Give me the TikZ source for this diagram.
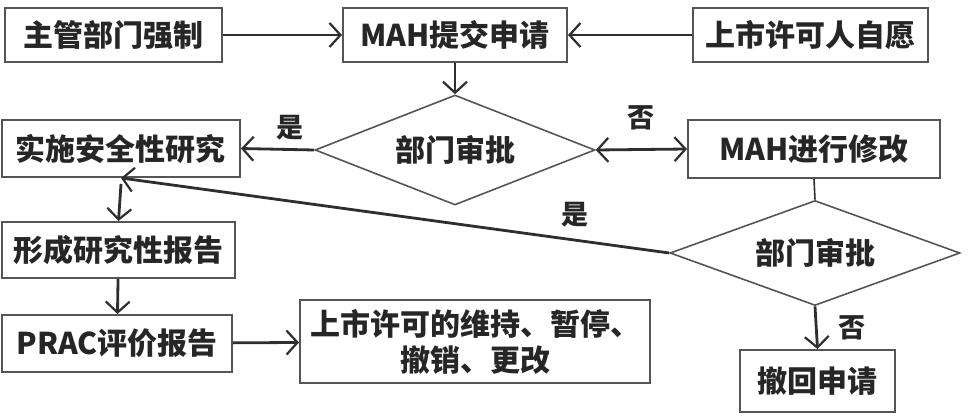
\documentclass[tikz,border=0pt]{standalone}
\usepackage{fontspec}
\setmainfont{Liberation Sans}
\newfontfamily\cjk{Noto Sans CJK SC}
\usetikzlibrary{shapes.geometric,arrows.meta}
\definecolor{ln}{HTML}{2E2E2E}
\definecolor{bd}{HTML}{555555}
\tikzset{
  box/.style={draw=bd,line width=2pt,rectangle,inner sep=0pt,text=black!85,font=\fontsize{30}{36}\selectfont\cjk\bfseries,align=center},
  dia/.style={draw=bd,line width=1.6pt,diamond,inner sep=0pt,text=black!85,font=\fontsize{30}{36}\selectfont\cjk\bfseries},
  conn/.style={draw=ln,line width=2.8pt,-{Straight Barb[length=11pt,width=24pt,line width=2.2pt]}},
  lab/.style={text=black!85,font=\fontsize{27}{32}\selectfont\cjk\bfseries}
}
\begin{document}
\begin{tikzpicture}[x=1pt,y=-1pt]
\useasboundingbox (0,0) rectangle (969,417);
\node[box,minimum width=217pt,minimum height=54pt] (b1) at (113.5,35) {主管部门强制};
\node[box,minimum width=224pt,minimum height=54pt] (b2) at (455,35) {MAH提交申请};
\node[box,minimum width=235pt,minimum height=54pt] (b3) at (810.5,35) {上市许可人自愿};
\node[dia,aspect=2.55,minimum width=280pt,minimum height=110pt] (d1) at (455,150) {部门审批};
\node[box,minimum width=238pt,minimum height=57pt] (b4) at (121,148.5) {实施安全性研究};
\node[box,minimum width=252pt,minimum height=58pt] (b5) at (814,149) {MAH进行修改};
\node[dia,aspect=2.75,minimum width=290pt,minimum height=105pt] (d2) at (815,253) {部门审批};
\node[box,minimum width=233pt,minimum height=56pt] (b6) at (118.5,250) {形成研究性报告};
\node[box,minimum width=230pt,minimum height=57pt] (b7) at (117,343.5) {PRAC评价报告};
\node[box,minimum width=350pt,minimum height=83pt] (b8) at (475,341.5) {上市许可的维持、暂停、\\撤销、更改};
\node[box,minimum width=155pt,minimum height=62pt] (b9) at (817.5,381) {撤回申请};
\draw[conn] (b1) -- (b2);
\draw[conn] (b3) -- (b2);
\draw[conn] (b2) -- (d1.north);
\draw[conn] (d1.west) -- (b4.east);
\draw[conn,{Straight Barb[length=11pt,width=24pt,line width=2.2pt]}-{Straight Barb[length=11pt,width=24pt,line width=2.2pt]}] (d1.east) -- (b5.west);
\draw[draw=ln,line width=1.6pt] (b5.south) -- (d2.north);
\draw[conn] (d2.west) -- (b4.south);
\draw[conn] (b4.south) ++(0,6) coordinate (b4d) -- (b6.north);
\draw[conn] (b6) -- (b7);
\draw[conn] (b7) -- (b8);
\draw[conn] (d2.south) -- (b9.north);
\node[lab] (l1) at (290,128) {是};
\node[lab] (l2) at (641,118) {否};
\node[lab] (l3) at (575,215) {是};
\node[lab] (l4) at (852,328) {否};
\end{tikzpicture}
\end{document}
